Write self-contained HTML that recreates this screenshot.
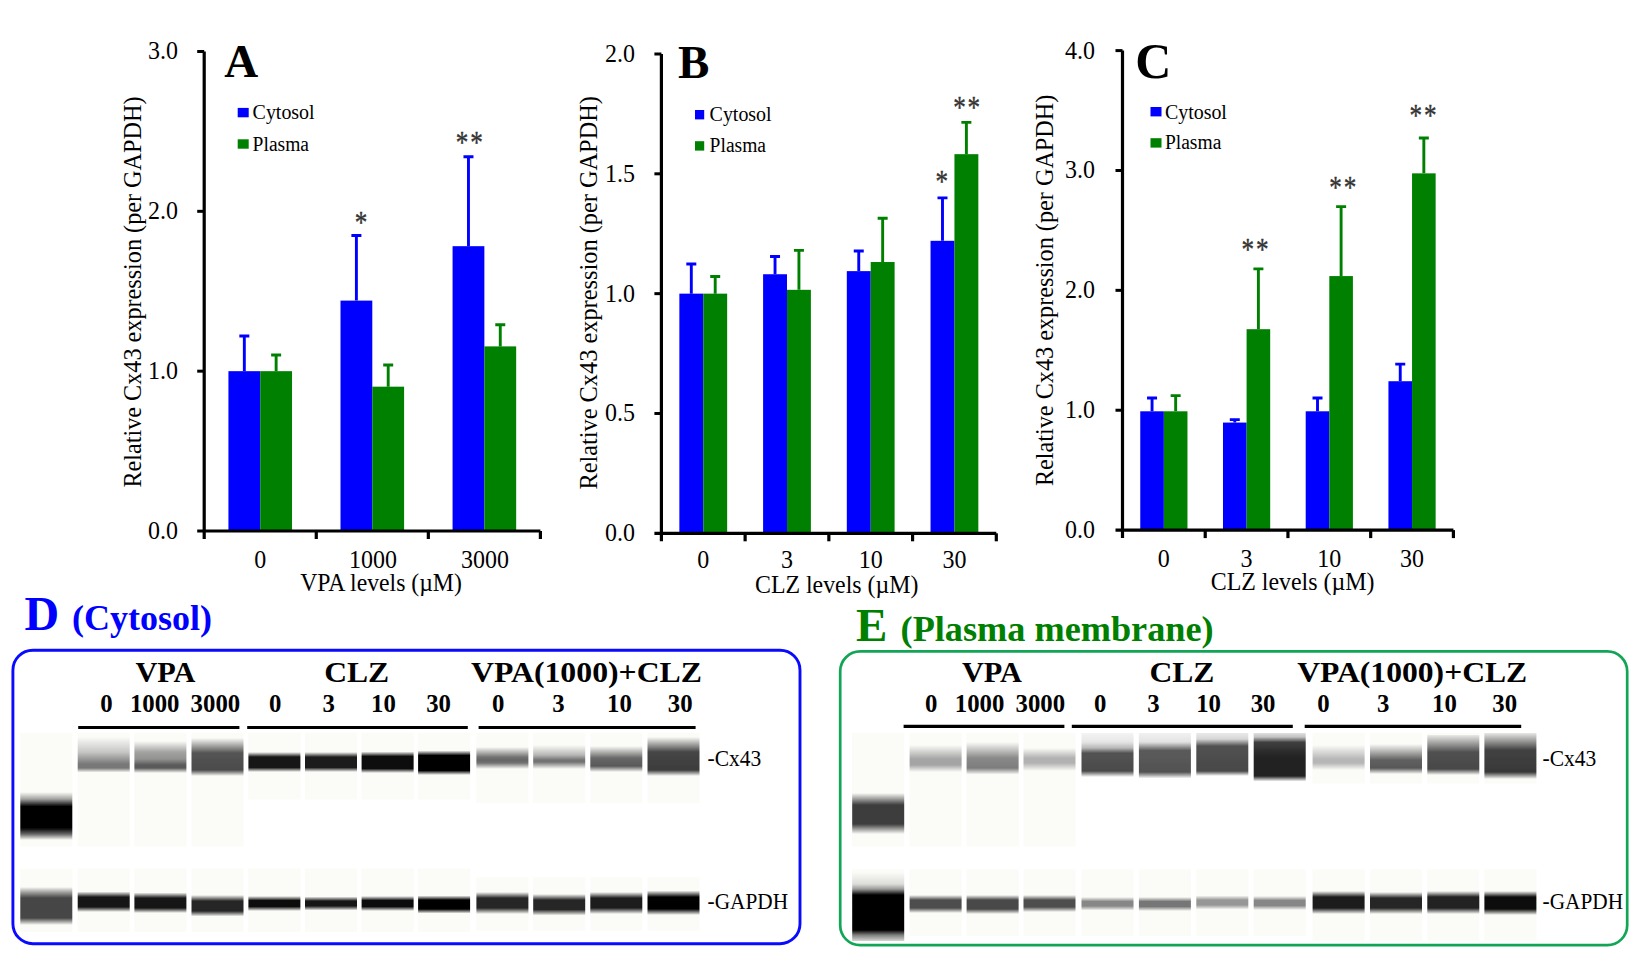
<!DOCTYPE html>
<html><head><meta charset="utf-8"><title>Figure</title>
<style>html,body{margin:0;padding:0;background:#fff}svg{display:block}</style></head>
<body>
<svg width="1635" height="970" viewBox="0 0 1635 970">
<defs><filter id="soft" x="0" y="0" width="100%" height="100%" filterUnits="userSpaceOnUse"><feGaussianBlur stdDeviation="0.7 0.5"/></filter>
<linearGradient id="g1" x1="0" y1="0" x2="0" y2="1"><stop offset="0.0000" stop-color="rgb(0,0,0)" stop-opacity="0"/><stop offset="0.1458" stop-color="rgb(0,0,0)" stop-opacity="0.35"/><stop offset="0.3021" stop-color="rgb(0,0,0)" stop-opacity="1"/><stop offset="0.7500" stop-color="rgb(0,0,0)" stop-opacity="1"/><stop offset="0.8750" stop-color="rgb(0,0,0)" stop-opacity="0.6"/><stop offset="1.0000" stop-color="rgb(0,0,0)" stop-opacity="0"/></linearGradient><linearGradient id="g2" x1="0" y1="0" x2="0" y2="1"><stop offset="0.0000" stop-color="rgb(40,40,40)" stop-opacity="0"/><stop offset="0.2895" stop-color="rgb(60,60,60)" stop-opacity="0.95"/><stop offset="0.8158" stop-color="rgb(60,60,60)" stop-opacity="0.95"/><stop offset="1.0000" stop-color="rgb(60,60,60)" stop-opacity="0"/></linearGradient><linearGradient id="g3" x1="0" y1="0" x2="0" y2="1"><stop offset="0.0000" stop-color="rgb(120,120,120)" stop-opacity="0"/><stop offset="0.4225" stop-color="rgb(120,120,120)" stop-opacity="0.4"/><stop offset="0.7606" stop-color="rgb(120,120,120)" stop-opacity="1"/><stop offset="0.8732" stop-color="rgb(120,120,120)" stop-opacity="1"/><stop offset="1.0000" stop-color="rgb(120,120,120)" stop-opacity="0"/></linearGradient><linearGradient id="g4" x1="0" y1="0" x2="0" y2="1"><stop offset="0.0000" stop-color="rgb(90,90,90)" stop-opacity="0"/><stop offset="0.3438" stop-color="rgb(90,90,90)" stop-opacity="0.55"/><stop offset="0.5625" stop-color="rgb(90,90,90)" stop-opacity="0.65"/><stop offset="0.7500" stop-color="rgb(90,90,90)" stop-opacity="1"/><stop offset="0.8438" stop-color="rgb(90,90,90)" stop-opacity="1"/><stop offset="1.0000" stop-color="rgb(90,90,90)" stop-opacity="0"/></linearGradient><linearGradient id="g5" x1="0" y1="0" x2="0" y2="1"><stop offset="0.0000" stop-color="rgb(75,75,75)" stop-opacity="0"/><stop offset="0.3947" stop-color="rgb(75,75,75)" stop-opacity="0.95"/><stop offset="0.8421" stop-color="rgb(75,75,75)" stop-opacity="1"/><stop offset="1.0000" stop-color="rgb(75,75,75)" stop-opacity="0"/></linearGradient><linearGradient id="g6" x1="0" y1="0" x2="0" y2="1"><stop offset="0.0000" stop-color="rgb(20,20,20)" stop-opacity="0"/><stop offset="0.2500" stop-color="rgb(20,20,20)" stop-opacity="1"/><stop offset="0.7750" stop-color="rgb(20,20,20)" stop-opacity="1"/><stop offset="1.0000" stop-color="rgb(20,20,20)" stop-opacity="0"/></linearGradient><linearGradient id="g7" x1="0" y1="0" x2="0" y2="1"><stop offset="0.0000" stop-color="rgb(30,30,30)" stop-opacity="0"/><stop offset="0.2500" stop-color="rgb(30,30,30)" stop-opacity="1"/><stop offset="0.7750" stop-color="rgb(30,30,30)" stop-opacity="1"/><stop offset="1.0000" stop-color="rgb(30,30,30)" stop-opacity="0"/></linearGradient><linearGradient id="g8" x1="0" y1="0" x2="0" y2="1"><stop offset="0.0000" stop-color="rgb(8,8,8)" stop-opacity="0"/><stop offset="0.2326" stop-color="rgb(8,8,8)" stop-opacity="1"/><stop offset="0.7907" stop-color="rgb(8,8,8)" stop-opacity="1"/><stop offset="1.0000" stop-color="rgb(8,8,8)" stop-opacity="0"/></linearGradient><linearGradient id="g9" x1="0" y1="0" x2="0" y2="1"><stop offset="0.0000" stop-color="rgb(0,0,0)" stop-opacity="0"/><stop offset="0.2041" stop-color="rgb(0,0,0)" stop-opacity="1"/><stop offset="0.8163" stop-color="rgb(0,0,0)" stop-opacity="1"/><stop offset="1.0000" stop-color="rgb(0,0,0)" stop-opacity="0"/></linearGradient><linearGradient id="g10" x1="0" y1="0" x2="0" y2="1"><stop offset="0.0000" stop-color="rgb(100,100,100)" stop-opacity="0"/><stop offset="0.4545" stop-color="rgb(100,100,100)" stop-opacity="0.9"/><stop offset="0.5909" stop-color="rgb(100,100,100)" stop-opacity="1"/><stop offset="0.7273" stop-color="rgb(100,100,100)" stop-opacity="0.9"/><stop offset="1.0000" stop-color="rgb(100,100,100)" stop-opacity="0"/></linearGradient><linearGradient id="g11" x1="0" y1="0" x2="0" y2="1"><stop offset="0.0000" stop-color="rgb(115,115,115)" stop-opacity="0"/><stop offset="0.4167" stop-color="rgb(115,115,115)" stop-opacity="0.5"/><stop offset="0.6250" stop-color="rgb(115,115,115)" stop-opacity="1"/><stop offset="0.7083" stop-color="rgb(115,115,115)" stop-opacity="1"/><stop offset="1.0000" stop-color="rgb(115,115,115)" stop-opacity="0"/></linearGradient><linearGradient id="g12" x1="0" y1="0" x2="0" y2="1"><stop offset="0.0000" stop-color="rgb(88,88,88)" stop-opacity="0"/><stop offset="0.4615" stop-color="rgb(88,88,88)" stop-opacity="0.9"/><stop offset="0.7692" stop-color="rgb(88,88,88)" stop-opacity="1"/><stop offset="1.0000" stop-color="rgb(88,88,88)" stop-opacity="0"/></linearGradient><linearGradient id="g13" x1="0" y1="0" x2="0" y2="1"><stop offset="0.0000" stop-color="rgb(60,60,60)" stop-opacity="0"/><stop offset="0.3846" stop-color="rgb(60,60,60)" stop-opacity="0.95"/><stop offset="0.8462" stop-color="rgb(60,60,60)" stop-opacity="1"/><stop offset="1.0000" stop-color="rgb(60,60,60)" stop-opacity="0"/></linearGradient><linearGradient id="g14" x1="0" y1="0" x2="0" y2="1"><stop offset="0.0000" stop-color="rgb(25,25,25)" stop-opacity="0"/><stop offset="0.2683" stop-color="rgb(25,25,25)" stop-opacity="1.0"/><stop offset="0.7561" stop-color="rgb(25,25,25)" stop-opacity="1.0"/><stop offset="1.0000" stop-color="rgb(25,25,25)" stop-opacity="0"/></linearGradient><linearGradient id="g15" x1="0" y1="0" x2="0" y2="1"><stop offset="0.0000" stop-color="rgb(25,25,25)" stop-opacity="0"/><stop offset="0.2683" stop-color="rgb(25,25,25)" stop-opacity="1.0"/><stop offset="0.7561" stop-color="rgb(25,25,25)" stop-opacity="1.0"/><stop offset="1.0000" stop-color="rgb(25,25,25)" stop-opacity="0"/></linearGradient><linearGradient id="g16" x1="0" y1="0" x2="0" y2="1"><stop offset="0.0000" stop-color="rgb(40,40,40)" stop-opacity="0"/><stop offset="0.2791" stop-color="rgb(40,40,40)" stop-opacity="1.0"/><stop offset="0.7442" stop-color="rgb(40,40,40)" stop-opacity="1.0"/><stop offset="1.0000" stop-color="rgb(40,40,40)" stop-opacity="0"/></linearGradient><linearGradient id="g17" x1="0" y1="0" x2="0" y2="1"><stop offset="0.0000" stop-color="rgb(15,15,15)" stop-opacity="0"/><stop offset="0.3000" stop-color="rgb(15,15,15)" stop-opacity="1.0"/><stop offset="0.7000" stop-color="rgb(15,15,15)" stop-opacity="1.0"/><stop offset="1.0000" stop-color="rgb(15,15,15)" stop-opacity="0"/></linearGradient><linearGradient id="g18" x1="0" y1="0" x2="0" y2="1"><stop offset="0.0000" stop-color="rgb(25,25,25)" stop-opacity="0"/><stop offset="0.3214" stop-color="rgb(25,25,25)" stop-opacity="1.0"/><stop offset="0.6786" stop-color="rgb(25,25,25)" stop-opacity="1.0"/><stop offset="1.0000" stop-color="rgb(25,25,25)" stop-opacity="0"/></linearGradient><linearGradient id="g19" x1="0" y1="0" x2="0" y2="1"><stop offset="0.0000" stop-color="rgb(10,10,10)" stop-opacity="0"/><stop offset="0.3000" stop-color="rgb(10,10,10)" stop-opacity="1.0"/><stop offset="0.7000" stop-color="rgb(10,10,10)" stop-opacity="1.0"/><stop offset="1.0000" stop-color="rgb(10,10,10)" stop-opacity="0"/></linearGradient><linearGradient id="g20" x1="0" y1="0" x2="0" y2="1"><stop offset="0.0000" stop-color="rgb(0,0,0)" stop-opacity="0"/><stop offset="0.2500" stop-color="rgb(0,0,0)" stop-opacity="1.0"/><stop offset="0.7500" stop-color="rgb(0,0,0)" stop-opacity="1.0"/><stop offset="1.0000" stop-color="rgb(0,0,0)" stop-opacity="0"/></linearGradient><linearGradient id="g21" x1="0" y1="0" x2="0" y2="1"><stop offset="0.0000" stop-color="rgb(40,40,40)" stop-opacity="0"/><stop offset="0.2727" stop-color="rgb(40,40,40)" stop-opacity="1.0"/><stop offset="0.7273" stop-color="rgb(40,40,40)" stop-opacity="1.0"/><stop offset="1.0000" stop-color="rgb(40,40,40)" stop-opacity="0"/></linearGradient><linearGradient id="g22" x1="0" y1="0" x2="0" y2="1"><stop offset="0.0000" stop-color="rgb(40,40,40)" stop-opacity="0"/><stop offset="0.2791" stop-color="rgb(40,40,40)" stop-opacity="1.0"/><stop offset="0.7209" stop-color="rgb(40,40,40)" stop-opacity="1.0"/><stop offset="1.0000" stop-color="rgb(40,40,40)" stop-opacity="0"/></linearGradient><linearGradient id="g23" x1="0" y1="0" x2="0" y2="1"><stop offset="0.0000" stop-color="rgb(30,30,30)" stop-opacity="0"/><stop offset="0.2727" stop-color="rgb(30,30,30)" stop-opacity="1.0"/><stop offset="0.7273" stop-color="rgb(30,30,30)" stop-opacity="1.0"/><stop offset="1.0000" stop-color="rgb(30,30,30)" stop-opacity="0"/></linearGradient><linearGradient id="g24" x1="0" y1="0" x2="0" y2="1"><stop offset="0.0000" stop-color="rgb(5,5,5)" stop-opacity="0"/><stop offset="0.2653" stop-color="rgb(5,5,5)" stop-opacity="1.0"/><stop offset="0.7551" stop-color="rgb(5,5,5)" stop-opacity="1.0"/><stop offset="1.0000" stop-color="rgb(5,5,5)" stop-opacity="0"/></linearGradient><linearGradient id="g25" x1="0" y1="0" x2="0" y2="1"><stop offset="0.0000" stop-color="rgb(60,60,60)" stop-opacity="0"/><stop offset="0.2927" stop-color="rgb(60,60,60)" stop-opacity="1"/><stop offset="0.7561" stop-color="rgb(60,60,60)" stop-opacity="1"/><stop offset="1.0000" stop-color="rgb(60,60,60)" stop-opacity="0"/></linearGradient><linearGradient id="g26" x1="0" y1="0" x2="0" y2="1"><stop offset="0.0000" stop-color="rgb(0,0,0)" stop-opacity="0"/><stop offset="0.1739" stop-color="rgb(0,0,0)" stop-opacity="0.12"/><stop offset="0.2464" stop-color="rgb(0,0,0)" stop-opacity="0.38"/><stop offset="0.3333" stop-color="rgb(0,0,0)" stop-opacity="1"/><stop offset="0.8406" stop-color="rgb(0,0,0)" stop-opacity="1"/><stop offset="0.9130" stop-color="rgb(0,0,0)" stop-opacity="0.5"/><stop offset="1.0000" stop-color="rgb(0,0,0)" stop-opacity="0.15"/></linearGradient><linearGradient id="g27" x1="0" y1="0" x2="0" y2="1"><stop offset="0.0000" stop-color="rgb(160,160,160)" stop-opacity="0"/><stop offset="0.5185" stop-color="rgb(160,160,160)" stop-opacity="0.95"/><stop offset="0.7407" stop-color="rgb(160,160,160)" stop-opacity="0.95"/><stop offset="1.0000" stop-color="rgb(160,160,160)" stop-opacity="0"/></linearGradient><linearGradient id="g28" x1="0" y1="0" x2="0" y2="1"><stop offset="0.0000" stop-color="rgb(125,125,125)" stop-opacity="0"/><stop offset="0.4923" stop-color="rgb(125,125,125)" stop-opacity="0.9"/><stop offset="0.8000" stop-color="rgb(125,125,125)" stop-opacity="1"/><stop offset="1.0000" stop-color="rgb(125,125,125)" stop-opacity="0"/></linearGradient><linearGradient id="g29" x1="0" y1="0" x2="0" y2="1"><stop offset="0.0000" stop-color="rgb(170,170,170)" stop-opacity="0"/><stop offset="0.4348" stop-color="rgb(170,170,170)" stop-opacity="0.9"/><stop offset="0.6522" stop-color="rgb(170,170,170)" stop-opacity="0.9"/><stop offset="1.0000" stop-color="rgb(170,170,170)" stop-opacity="0"/></linearGradient><linearGradient id="g30" x1="0" y1="0" x2="0" y2="1"><stop offset="0.0000" stop-color="rgb(74,74,74)" stop-opacity="0.06"/><stop offset="0.2045" stop-color="rgb(74,74,74)" stop-opacity="0.14"/><stop offset="0.3409" stop-color="rgb(74,74,74)" stop-opacity="0.4"/><stop offset="0.4545" stop-color="rgb(74,74,74)" stop-opacity="0.95"/><stop offset="0.8636" stop-color="rgb(74,74,74)" stop-opacity="1"/><stop offset="1.0000" stop-color="rgb(74,74,74)" stop-opacity="0"/></linearGradient><linearGradient id="g31" x1="0" y1="0" x2="0" y2="1"><stop offset="0.0000" stop-color="rgb(82,82,82)" stop-opacity="0.08"/><stop offset="0.1978" stop-color="rgb(82,82,82)" stop-opacity="0.16"/><stop offset="0.3846" stop-color="rgb(82,82,82)" stop-opacity="0.95"/><stop offset="0.8571" stop-color="rgb(82,82,82)" stop-opacity="1"/><stop offset="1.0000" stop-color="rgb(82,82,82)" stop-opacity="0"/></linearGradient><linearGradient id="g32" x1="0" y1="0" x2="0" y2="1"><stop offset="0.0000" stop-color="rgb(72,72,72)" stop-opacity="0.12"/><stop offset="0.1395" stop-color="rgb(72,72,72)" stop-opacity="0.22"/><stop offset="0.3023" stop-color="rgb(72,72,72)" stop-opacity="0.95"/><stop offset="0.8837" stop-color="rgb(72,72,72)" stop-opacity="1"/><stop offset="1.0000" stop-color="rgb(72,72,72)" stop-opacity="0"/></linearGradient><linearGradient id="g33" x1="0" y1="0" x2="0" y2="1"><stop offset="0.0000" stop-color="rgb(40,40,40)" stop-opacity="0.15"/><stop offset="0.0825" stop-color="rgb(40,40,40)" stop-opacity="0.28"/><stop offset="0.1959" stop-color="rgb(40,40,40)" stop-opacity="0.9"/><stop offset="0.5155" stop-color="rgb(34,34,34)" stop-opacity="1"/><stop offset="0.8866" stop-color="rgb(36,36,36)" stop-opacity="1"/><stop offset="1.0000" stop-color="rgb(40,40,40)" stop-opacity="0"/></linearGradient><linearGradient id="g34" x1="0" y1="0" x2="0" y2="1"><stop offset="0.0000" stop-color="rgb(175,175,175)" stop-opacity="0"/><stop offset="0.5600" stop-color="rgb(175,175,175)" stop-opacity="0.9"/><stop offset="0.7200" stop-color="rgb(175,175,175)" stop-opacity="0.9"/><stop offset="1.0000" stop-color="rgb(175,175,175)" stop-opacity="0"/></linearGradient><linearGradient id="g35" x1="0" y1="0" x2="0" y2="1"><stop offset="0.0000" stop-color="rgb(88,88,88)" stop-opacity="0"/><stop offset="0.5333" stop-color="rgb(88,88,88)" stop-opacity="0.95"/><stop offset="0.8000" stop-color="rgb(88,88,88)" stop-opacity="1"/><stop offset="1.0000" stop-color="rgb(88,88,88)" stop-opacity="0"/></linearGradient><linearGradient id="g36" x1="0" y1="0" x2="0" y2="1"><stop offset="0.0000" stop-color="rgb(72,72,72)" stop-opacity="0.1"/><stop offset="0.4250" stop-color="rgb(72,72,72)" stop-opacity="0.95"/><stop offset="0.8500" stop-color="rgb(72,72,72)" stop-opacity="1"/><stop offset="1.0000" stop-color="rgb(72,72,72)" stop-opacity="0"/></linearGradient><linearGradient id="g37" x1="0" y1="0" x2="0" y2="1"><stop offset="0.0000" stop-color="rgb(56,56,56)" stop-opacity="0.1"/><stop offset="0.3696" stop-color="rgb(56,56,56)" stop-opacity="0.95"/><stop offset="0.8478" stop-color="rgb(56,56,56)" stop-opacity="1"/><stop offset="1.0000" stop-color="rgb(56,56,56)" stop-opacity="0"/></linearGradient><linearGradient id="g38" x1="0" y1="0" x2="0" y2="1"><stop offset="0.0000" stop-color="rgb(78,78,78)" stop-opacity="0"/><stop offset="0.2778" stop-color="rgb(78,78,78)" stop-opacity="1.0"/><stop offset="0.7222" stop-color="rgb(78,78,78)" stop-opacity="1.0"/><stop offset="1.0000" stop-color="rgb(78,78,78)" stop-opacity="0"/></linearGradient><linearGradient id="g39" x1="0" y1="0" x2="0" y2="1"><stop offset="0.0000" stop-color="rgb(72,72,72)" stop-opacity="0"/><stop offset="0.2632" stop-color="rgb(72,72,72)" stop-opacity="1.0"/><stop offset="0.7368" stop-color="rgb(72,72,72)" stop-opacity="1.0"/><stop offset="1.0000" stop-color="rgb(72,72,72)" stop-opacity="0"/></linearGradient><linearGradient id="g40" x1="0" y1="0" x2="0" y2="1"><stop offset="0.0000" stop-color="rgb(78,78,78)" stop-opacity="0"/><stop offset="0.2941" stop-color="rgb(78,78,78)" stop-opacity="1.0"/><stop offset="0.7059" stop-color="rgb(78,78,78)" stop-opacity="1.0"/><stop offset="1.0000" stop-color="rgb(78,78,78)" stop-opacity="0"/></linearGradient><linearGradient id="g41" x1="0" y1="0" x2="0" y2="1"><stop offset="0.0000" stop-color="rgb(135,135,135)" stop-opacity="0"/><stop offset="0.3333" stop-color="rgb(135,135,135)" stop-opacity="1.0"/><stop offset="0.6667" stop-color="rgb(135,135,135)" stop-opacity="1.0"/><stop offset="1.0000" stop-color="rgb(135,135,135)" stop-opacity="0"/></linearGradient><linearGradient id="g42" x1="0" y1="0" x2="0" y2="1"><stop offset="0.0000" stop-color="rgb(118,118,118)" stop-opacity="0"/><stop offset="0.3214" stop-color="rgb(118,118,118)" stop-opacity="1.0"/><stop offset="0.6786" stop-color="rgb(118,118,118)" stop-opacity="1.0"/><stop offset="1.0000" stop-color="rgb(118,118,118)" stop-opacity="0"/></linearGradient><linearGradient id="g43" x1="0" y1="0" x2="0" y2="1"><stop offset="0.0000" stop-color="rgb(150,150,150)" stop-opacity="0"/><stop offset="0.3214" stop-color="rgb(150,150,150)" stop-opacity="1.0"/><stop offset="0.6786" stop-color="rgb(150,150,150)" stop-opacity="1.0"/><stop offset="1.0000" stop-color="rgb(150,150,150)" stop-opacity="0"/></linearGradient><linearGradient id="g44" x1="0" y1="0" x2="0" y2="1"><stop offset="0.0000" stop-color="rgb(135,135,135)" stop-opacity="0"/><stop offset="0.3214" stop-color="rgb(135,135,135)" stop-opacity="1.0"/><stop offset="0.6786" stop-color="rgb(135,135,135)" stop-opacity="1.0"/><stop offset="1.0000" stop-color="rgb(135,135,135)" stop-opacity="0"/></linearGradient><linearGradient id="g45" x1="0" y1="0" x2="0" y2="1"><stop offset="0.0000" stop-color="rgb(28,28,28)" stop-opacity="0"/><stop offset="0.2609" stop-color="rgb(28,28,28)" stop-opacity="1.0"/><stop offset="0.7391" stop-color="rgb(28,28,28)" stop-opacity="1.0"/><stop offset="1.0000" stop-color="rgb(28,28,28)" stop-opacity="0"/></linearGradient><linearGradient id="g46" x1="0" y1="0" x2="0" y2="1"><stop offset="0.0000" stop-color="rgb(40,40,40)" stop-opacity="0"/><stop offset="0.2727" stop-color="rgb(40,40,40)" stop-opacity="1.0"/><stop offset="0.7273" stop-color="rgb(40,40,40)" stop-opacity="1.0"/><stop offset="1.0000" stop-color="rgb(40,40,40)" stop-opacity="0"/></linearGradient><linearGradient id="g47" x1="0" y1="0" x2="0" y2="1"><stop offset="0.0000" stop-color="rgb(32,32,32)" stop-opacity="0"/><stop offset="0.2609" stop-color="rgb(32,32,32)" stop-opacity="1.0"/><stop offset="0.7391" stop-color="rgb(32,32,32)" stop-opacity="1.0"/><stop offset="1.0000" stop-color="rgb(32,32,32)" stop-opacity="0"/></linearGradient><linearGradient id="g48" x1="0" y1="0" x2="0" y2="1"><stop offset="0.0000" stop-color="rgb(12,12,12)" stop-opacity="0"/><stop offset="0.2500" stop-color="rgb(12,12,12)" stop-opacity="1.0"/><stop offset="0.7500" stop-color="rgb(12,12,12)" stop-opacity="1.0"/><stop offset="1.0000" stop-color="rgb(12,12,12)" stop-opacity="0"/></linearGradient></defs>
<rect width="1635" height="970" fill="#fff"/>
<g font-family="Liberation Serif, serif">
<rect x="228.43" y="371.17" width="31.80" height="159.83" fill="#0000ff"/>
<path d="M244.33 371.17V335.68M239.33 335.98H249.33" stroke="#0000ff" stroke-width="2.9" fill="none"/>
<rect x="260.23" y="371.17" width="31.80" height="159.83" fill="#008000"/>
<path d="M276.13 371.17V354.70M271.13 355.00H281.13" stroke="#008000" stroke-width="2.9" fill="none"/>
<rect x="340.50" y="300.60" width="31.80" height="230.40" fill="#0000ff"/>
<path d="M356.40 300.60V235.15M351.40 235.45H361.40" stroke="#0000ff" stroke-width="2.9" fill="none"/>
<rect x="372.30" y="386.67" width="31.80" height="144.33" fill="#008000"/>
<path d="M388.20 386.67V364.77M383.20 365.07H393.20" stroke="#008000" stroke-width="2.9" fill="none"/>
<rect x="452.57" y="246.18" width="31.80" height="284.82" fill="#0000ff"/>
<path d="M468.47 246.18V156.51M463.47 156.81H473.47" stroke="#0000ff" stroke-width="2.9" fill="none"/>
<rect x="484.37" y="346.39" width="31.80" height="184.61" fill="#008000"/>
<path d="M500.27 346.39V324.50M495.27 324.80H505.27" stroke="#008000" stroke-width="2.9" fill="none"/>
<path d="M204.2 51.5V539.0M197.2 531.0H540.4" stroke="#000" stroke-width="3.2" fill="none"/>
<text transform="translate(178 538.90) scale(1 1.01)" font-size="24" text-anchor="end" font-weight="normal" fill="#000" >0.0</text>
<path d="M197.2 371.17H204.2" stroke="#000" stroke-width="3" fill="none"/>
<text transform="translate(178 379.07) scale(1 1.01)" font-size="24" text-anchor="end" font-weight="normal" fill="#000" >1.0</text>
<path d="M197.2 211.33H204.2" stroke="#000" stroke-width="3" fill="none"/>
<text transform="translate(178 219.23) scale(1 1.01)" font-size="24" text-anchor="end" font-weight="normal" fill="#000" >2.0</text>
<path d="M197.2 51.50H204.2" stroke="#000" stroke-width="3" fill="none"/>
<text transform="translate(178 59.40) scale(1 1.01)" font-size="24" text-anchor="end" font-weight="normal" fill="#000" >3.0</text>
<path d="M316.27 531.0V539.0" stroke="#000" stroke-width="3.2" fill="none"/>
<path d="M428.33 531.0V539.0" stroke="#000" stroke-width="3.2" fill="none"/>
<path d="M540.40 531.0V539.0" stroke="#000" stroke-width="3.2" fill="none"/>
<text transform="translate(260.23 567.5) scale(1 1.01)" font-size="24" text-anchor="middle" font-weight="normal" fill="#000" >0</text>
<text transform="translate(372.90 567.5) scale(1 1.01)" font-size="24" text-anchor="middle" font-weight="normal" fill="#000" >1000</text>
<text transform="translate(484.97 567.5) scale(1 1.01)" font-size="24" text-anchor="middle" font-weight="normal" fill="#000" >3000</text>
<text transform="translate(300.2 590.6) scale(1 1.04)" font-size="24" text-anchor="start" font-weight="normal" fill="#000" textLength="161.6" lengthAdjust="spacingAndGlyphs">VPA levels (µM)</text>
<text transform="translate(140.7 292.05) rotate(-90) scale(1 1.05)" font-size="24" text-anchor="middle" textLength="391" lengthAdjust="spacingAndGlyphs">Relative Cx43 expression (per GAPDH)</text>
<text x="224.3" y="77.4" font-size="47" text-anchor="start" font-weight="bold" fill="#000" >A</text>
<rect x="237.7" y="107.9" width="11" height="9.4" fill="#0000ff"/>
<rect x="237.7" y="139.3" width="11" height="9.4" fill="#008000"/>
<text transform="translate(252.6 119.2) scale(1 1.04)" font-size="20" text-anchor="start" font-weight="normal" fill="#000" textLength="62" lengthAdjust="spacingAndGlyphs">Cytosol</text>
<text transform="translate(252.6 150.6) scale(1 1.04)" font-size="20" text-anchor="start" font-weight="normal" fill="#000" textLength="56.4" lengthAdjust="spacingAndGlyphs">Plasma</text>
<text transform="translate(362 232.70) scale(0.9 1.12)" font-size="28" text-anchor="middle" fill="#333333" stroke="#333333" stroke-width="0.35" letter-spacing="2">*</text>
<text transform="translate(469.3 152.50) scale(0.9 1.12)" font-size="28" text-anchor="middle" fill="#333333" stroke="#333333" stroke-width="0.35" letter-spacing="2" dx="1">**</text>
<rect x="679.36" y="293.65" width="23.90" height="239.65" fill="#0000ff"/>
<path d="M691.31 293.65V263.69M686.31 263.99H696.31" stroke="#0000ff" stroke-width="2.9" fill="none"/>
<rect x="703.26" y="293.65" width="23.90" height="239.65" fill="#008000"/>
<path d="M715.21 293.65V276.16M710.21 276.46H720.21" stroke="#008000" stroke-width="2.9" fill="none"/>
<rect x="763.09" y="274.24" width="23.90" height="259.06" fill="#0000ff"/>
<path d="M775.04 274.24V256.26M770.04 256.56H780.04" stroke="#0000ff" stroke-width="2.9" fill="none"/>
<rect x="786.99" y="289.82" width="23.90" height="243.48" fill="#008000"/>
<path d="M798.94 289.82V250.03M793.94 250.33H803.94" stroke="#008000" stroke-width="2.9" fill="none"/>
<rect x="846.81" y="271.12" width="23.90" height="262.18" fill="#0000ff"/>
<path d="M858.76 271.12V250.75M853.76 251.05H863.76" stroke="#0000ff" stroke-width="2.9" fill="none"/>
<rect x="870.71" y="262.02" width="23.90" height="271.28" fill="#008000"/>
<path d="M882.66 262.02V217.92M877.66 218.22H887.66" stroke="#008000" stroke-width="2.9" fill="none"/>
<rect x="930.54" y="240.81" width="23.90" height="292.49" fill="#0000ff"/>
<path d="M942.49 240.81V197.55M937.49 197.85H947.49" stroke="#0000ff" stroke-width="2.9" fill="none"/>
<rect x="954.44" y="154.17" width="23.90" height="379.13" fill="#008000"/>
<path d="M966.39 154.17V122.06M961.39 122.36H971.39" stroke="#008000" stroke-width="2.9" fill="none"/>
<path d="M661.4 54.0V541.3M654.4 533.3H996.3" stroke="#000" stroke-width="3.2" fill="none"/>
<text transform="translate(635 541.20) scale(1 1.01)" font-size="24" text-anchor="end" font-weight="normal" fill="#000" >0.0</text>
<path d="M654.4 413.47H661.4" stroke="#000" stroke-width="3" fill="none"/>
<text transform="translate(635 421.37) scale(1 1.01)" font-size="24" text-anchor="end" font-weight="normal" fill="#000" >0.5</text>
<path d="M654.4 293.65H661.4" stroke="#000" stroke-width="3" fill="none"/>
<text transform="translate(635 301.55) scale(1 1.01)" font-size="24" text-anchor="end" font-weight="normal" fill="#000" >1.0</text>
<path d="M654.4 173.82H661.4" stroke="#000" stroke-width="3" fill="none"/>
<text transform="translate(635 181.72) scale(1 1.01)" font-size="24" text-anchor="end" font-weight="normal" fill="#000" >1.5</text>
<path d="M654.4 54.00H661.4" stroke="#000" stroke-width="3" fill="none"/>
<text transform="translate(635 61.90) scale(1 1.01)" font-size="24" text-anchor="end" font-weight="normal" fill="#000" >2.0</text>
<path d="M745.12 533.3V541.3" stroke="#000" stroke-width="3.2" fill="none"/>
<path d="M828.85 533.3V541.3" stroke="#000" stroke-width="3.2" fill="none"/>
<path d="M912.57 533.3V541.3" stroke="#000" stroke-width="3.2" fill="none"/>
<path d="M996.30 533.3V541.3" stroke="#000" stroke-width="3.2" fill="none"/>
<text transform="translate(703.26 568.2) scale(1 1.01)" font-size="24" text-anchor="middle" font-weight="normal" fill="#000" >0</text>
<text transform="translate(786.99 568.2) scale(1 1.01)" font-size="24" text-anchor="middle" font-weight="normal" fill="#000" >3</text>
<text transform="translate(870.71 568.2) scale(1 1.01)" font-size="24" text-anchor="middle" font-weight="normal" fill="#000" >10</text>
<text transform="translate(954.44 568.2) scale(1 1.01)" font-size="24" text-anchor="middle" font-weight="normal" fill="#000" >30</text>
<text transform="translate(755.0 592.5) scale(1 1.04)" font-size="24" text-anchor="start" font-weight="normal" fill="#000" textLength="163.4" lengthAdjust="spacingAndGlyphs">CLZ levels (µM)</text>
<text transform="translate(596.8 292.85) rotate(-90) scale(1 1.05)" font-size="24" text-anchor="middle" textLength="393.5" lengthAdjust="spacingAndGlyphs">Relative Cx43 expression (per GAPDH)</text>
<text x="678.0" y="77.7" font-size="47" text-anchor="start" font-weight="bold" fill="#000" >B</text>
<rect x="695" y="110" width="9.2" height="9.4" fill="#0000ff"/>
<rect x="695" y="141.2" width="9.2" height="9.4" fill="#008000"/>
<text transform="translate(709.6 121.0) scale(1 1.04)" font-size="20" text-anchor="start" font-weight="normal" fill="#000" textLength="62" lengthAdjust="spacingAndGlyphs">Cytosol</text>
<text transform="translate(709.6 152.2) scale(1 1.04)" font-size="20" text-anchor="start" font-weight="normal" fill="#000" textLength="56.4" lengthAdjust="spacingAndGlyphs">Plasma</text>
<text transform="translate(942.6 191.90) scale(0.9 1.12)" font-size="28" text-anchor="middle" fill="#333333" stroke="#333333" stroke-width="0.35" letter-spacing="2">*</text>
<text transform="translate(966.7 118.00) scale(0.9 1.12)" font-size="28" text-anchor="middle" fill="#333333" stroke="#333333" stroke-width="0.35" letter-spacing="2" dx="1">**</text>
<rect x="1140.26" y="411.30" width="23.60" height="118.80" fill="#0000ff"/>
<path d="M1152.06 411.30V397.76M1147.06 398.06H1157.06" stroke="#0000ff" stroke-width="2.9" fill="none"/>
<rect x="1163.86" y="411.30" width="23.60" height="118.80" fill="#008000"/>
<path d="M1175.66 411.30V395.36M1170.66 395.66H1180.66" stroke="#008000" stroke-width="2.9" fill="none"/>
<rect x="1222.99" y="422.57" width="23.60" height="107.53" fill="#0000ff"/>
<path d="M1234.79 422.57V419.34M1229.79 419.64H1239.79" stroke="#0000ff" stroke-width="2.9" fill="none"/>
<rect x="1246.59" y="329.19" width="23.60" height="200.91" fill="#008000"/>
<path d="M1258.39 329.19V268.53M1253.39 268.83H1263.39" stroke="#008000" stroke-width="2.9" fill="none"/>
<rect x="1305.71" y="411.30" width="23.60" height="118.80" fill="#0000ff"/>
<path d="M1317.51 411.30V397.76M1312.51 398.06H1322.51" stroke="#0000ff" stroke-width="2.9" fill="none"/>
<rect x="1329.31" y="276.08" width="23.60" height="254.02" fill="#008000"/>
<path d="M1341.11 276.08V206.32M1336.11 206.62H1346.11" stroke="#008000" stroke-width="2.9" fill="none"/>
<rect x="1388.44" y="381.22" width="23.60" height="148.88" fill="#0000ff"/>
<path d="M1400.24 381.22V363.83M1395.24 364.13H1405.24" stroke="#0000ff" stroke-width="2.9" fill="none"/>
<rect x="1412.04" y="173.35" width="23.60" height="356.75" fill="#008000"/>
<path d="M1423.84 173.35V137.63M1418.84 137.93H1428.84" stroke="#008000" stroke-width="2.9" fill="none"/>
<path d="M1122.5 50.6V538.1M1115.5 530.1H1453.4" stroke="#000" stroke-width="3.2" fill="none"/>
<text transform="translate(1095 538.00) scale(1 1.01)" font-size="24" text-anchor="end" font-weight="normal" fill="#000" >0.0</text>
<path d="M1115.5 410.23H1122.5" stroke="#000" stroke-width="3" fill="none"/>
<text transform="translate(1095 418.12) scale(1 1.01)" font-size="24" text-anchor="end" font-weight="normal" fill="#000" >1.0</text>
<path d="M1115.5 290.35H1122.5" stroke="#000" stroke-width="3" fill="none"/>
<text transform="translate(1095 298.25) scale(1 1.01)" font-size="24" text-anchor="end" font-weight="normal" fill="#000" >2.0</text>
<path d="M1115.5 170.48H1122.5" stroke="#000" stroke-width="3" fill="none"/>
<text transform="translate(1095 178.38) scale(1 1.01)" font-size="24" text-anchor="end" font-weight="normal" fill="#000" >3.0</text>
<path d="M1115.5 50.60H1122.5" stroke="#000" stroke-width="3" fill="none"/>
<text transform="translate(1095 58.50) scale(1 1.01)" font-size="24" text-anchor="end" font-weight="normal" fill="#000" >4.0</text>
<path d="M1205.22 530.1V538.1" stroke="#000" stroke-width="3.2" fill="none"/>
<path d="M1287.95 530.1V538.1" stroke="#000" stroke-width="3.2" fill="none"/>
<path d="M1370.68 530.1V538.1" stroke="#000" stroke-width="3.2" fill="none"/>
<path d="M1453.40 530.1V538.1" stroke="#000" stroke-width="3.2" fill="none"/>
<text transform="translate(1163.86 566.8) scale(1 1.01)" font-size="24" text-anchor="middle" font-weight="normal" fill="#000" >0</text>
<text transform="translate(1246.59 566.8) scale(1 1.01)" font-size="24" text-anchor="middle" font-weight="normal" fill="#000" >3</text>
<text transform="translate(1329.31 566.8) scale(1 1.01)" font-size="24" text-anchor="middle" font-weight="normal" fill="#000" >10</text>
<text transform="translate(1412.04 566.8) scale(1 1.01)" font-size="24" text-anchor="middle" font-weight="normal" fill="#000" >30</text>
<text transform="translate(1210.7 590.0) scale(1 1.04)" font-size="24" text-anchor="start" font-weight="normal" fill="#000" textLength="163.7" lengthAdjust="spacingAndGlyphs">CLZ levels (µM)</text>
<text transform="translate(1053.4 290.35) rotate(-90) scale(1 1.05)" font-size="24" text-anchor="middle" textLength="391.5" lengthAdjust="spacingAndGlyphs">Relative Cx43 expression (per GAPDH)</text>
<text x="1135.3" y="77.9" font-size="50" text-anchor="start" font-weight="bold" fill="#000" >C</text>
<rect x="1150.5" y="107" width="11" height="9.4" fill="#0000ff"/>
<rect x="1150.5" y="138.2" width="11" height="9.4" fill="#008000"/>
<text transform="translate(1164.9 118.6) scale(1 1.04)" font-size="20" text-anchor="start" font-weight="normal" fill="#000" textLength="62" lengthAdjust="spacingAndGlyphs">Cytosol</text>
<text transform="translate(1164.9 149.2) scale(1 1.04)" font-size="20" text-anchor="start" font-weight="normal" fill="#000" textLength="56.4" lengthAdjust="spacingAndGlyphs">Plasma</text>
<text transform="translate(1255.1 259.90) scale(0.9 1.12)" font-size="28" text-anchor="middle" fill="#333333" stroke="#333333" stroke-width="0.35" letter-spacing="2" dx="1">**</text>
<text transform="translate(1342.8 197.50) scale(0.9 1.12)" font-size="28" text-anchor="middle" fill="#333333" stroke="#333333" stroke-width="0.35" letter-spacing="2" dx="1">**</text>
<text transform="translate(1423 125.70) scale(0.9 1.12)" font-size="28" text-anchor="middle" fill="#333333" stroke="#333333" stroke-width="0.35" letter-spacing="2" dx="1">**</text>
<g filter="url(#soft)">
<rect x="20.30" y="733.00" width="52.00" height="113.50" fill="#fbfbf8"/>
<rect x="77.70" y="733.00" width="52.00" height="113.50" fill="#fbfbf8"/>
<rect x="134.40" y="733.00" width="52.00" height="113.50" fill="#fbfbf8"/>
<rect x="191.50" y="733.00" width="52.00" height="113.50" fill="#fbfbf8"/>
<rect x="248.40" y="733.00" width="52.00" height="66.50" fill="#fbfbf8"/>
<rect x="305.00" y="733.00" width="52.00" height="66.50" fill="#fbfbf8"/>
<rect x="361.60" y="733.00" width="52.00" height="66.50" fill="#fbfbf8"/>
<rect x="418.10" y="733.00" width="52.00" height="66.50" fill="#fbfbf8"/>
<rect x="476.40" y="733.00" width="52.00" height="70.00" fill="#fbfbf8"/>
<rect x="533.20" y="733.00" width="52.00" height="70.00" fill="#fbfbf8"/>
<rect x="590.30" y="733.00" width="52.00" height="70.00" fill="#fbfbf8"/>
<rect x="647.50" y="733.00" width="52.00" height="70.00" fill="#fbfbf8"/>
<rect x="20.30" y="869.00" width="52.00" height="63.00" fill="#fbfbf8"/>
<rect x="77.70" y="868.50" width="52.00" height="63.50" fill="#fbfbf8"/>
<rect x="134.40" y="868.50" width="52.00" height="63.50" fill="#fbfbf8"/>
<rect x="191.50" y="868.50" width="52.00" height="63.50" fill="#fbfbf8"/>
<rect x="248.40" y="868.50" width="52.00" height="63.50" fill="#fbfbf8"/>
<rect x="305.00" y="868.50" width="52.00" height="63.50" fill="#fbfbf8"/>
<rect x="361.60" y="868.50" width="52.00" height="63.50" fill="#fbfbf8"/>
<rect x="418.10" y="868.50" width="52.00" height="63.50" fill="#fbfbf8"/>
<rect x="476.40" y="877.50" width="52.00" height="53.00" fill="#fbfbf8"/>
<rect x="533.20" y="877.50" width="52.00" height="53.00" fill="#fbfbf8"/>
<rect x="590.30" y="877.50" width="52.00" height="53.00" fill="#fbfbf8"/>
<rect x="647.50" y="877.50" width="52.00" height="53.00" fill="#fbfbf8"/>
<rect x="20.30" y="792.00" width="52.00" height="48.00" fill="url(#g1)"/>
<rect x="20.30" y="887.00" width="52.00" height="38.00" fill="url(#g2)"/>
<rect x="77.70" y="737.00" width="52.00" height="35.50" fill="url(#g3)"/>
<rect x="134.40" y="741.00" width="52.00" height="32.00" fill="url(#g4)"/>
<rect x="191.50" y="738.00" width="52.00" height="38.00" fill="url(#g5)"/>
<rect x="248.40" y="752.00" width="52.00" height="20.00" fill="url(#g6)"/>
<rect x="305.00" y="752.00" width="52.00" height="20.00" fill="url(#g7)"/>
<rect x="361.60" y="751.50" width="52.00" height="21.50" fill="url(#g8)"/>
<rect x="418.10" y="750.50" width="52.00" height="24.50" fill="url(#g9)"/>
<rect x="476.40" y="747.00" width="52.00" height="22.00" fill="url(#g10)"/>
<rect x="533.20" y="745.00" width="52.00" height="24.00" fill="url(#g11)"/>
<rect x="590.30" y="746.00" width="52.00" height="26.00" fill="url(#g12)"/>
<rect x="647.50" y="737.00" width="52.00" height="39.00" fill="url(#g13)"/>
<rect x="77.70" y="891.50" width="52.00" height="20.50" fill="url(#g14)"/>
<rect x="134.40" y="892.50" width="52.00" height="20.50" fill="url(#g15)"/>
<rect x="191.50" y="895.00" width="52.00" height="21.50" fill="url(#g16)"/>
<rect x="248.40" y="896.00" width="52.00" height="15.00" fill="url(#g17)"/>
<rect x="305.00" y="896.50" width="52.00" height="14.00" fill="url(#g18)"/>
<rect x="361.60" y="896.00" width="52.00" height="15.00" fill="url(#g19)"/>
<rect x="418.10" y="895.50" width="52.00" height="18.00" fill="url(#g20)"/>
<rect x="476.40" y="892.00" width="52.00" height="22.00" fill="url(#g21)"/>
<rect x="533.20" y="894.00" width="52.00" height="21.50" fill="url(#g22)"/>
<rect x="590.30" y="892.00" width="52.00" height="22.00" fill="url(#g23)"/>
<rect x="647.50" y="890.50" width="52.00" height="24.50" fill="url(#g24)"/>
<rect x="852.20" y="733.00" width="52.00" height="113.50" fill="#fbfbf8"/>
<rect x="909.60" y="733.00" width="52.00" height="113.50" fill="#fbfbf8"/>
<rect x="966.60" y="733.00" width="52.00" height="113.50" fill="#fbfbf8"/>
<rect x="1023.50" y="733.00" width="52.00" height="113.50" fill="#fbfbf8"/>
<rect x="1312.60" y="733.00" width="52.00" height="50.50" fill="#fbfbf8"/>
<rect x="1370.00" y="733.00" width="52.00" height="50.50" fill="#fbfbf8"/>
<rect x="1427.30" y="733.00" width="52.00" height="50.50" fill="#fbfbf8"/>
<rect x="1484.40" y="733.00" width="52.00" height="50.50" fill="#fbfbf8"/>
<rect x="852.20" y="869.50" width="52.00" height="71.50" fill="#fbfbf8"/>
<rect x="909.60" y="869.50" width="52.00" height="66.50" fill="#fbfbf8"/>
<rect x="966.60" y="869.50" width="52.00" height="66.50" fill="#fbfbf8"/>
<rect x="1023.50" y="869.50" width="52.00" height="66.50" fill="#fbfbf8"/>
<rect x="1081.50" y="869.50" width="52.00" height="66.50" fill="#fbfbf8"/>
<rect x="1138.90" y="869.50" width="52.00" height="66.50" fill="#fbfbf8"/>
<rect x="1196.30" y="869.50" width="52.00" height="66.50" fill="#fbfbf8"/>
<rect x="1253.70" y="869.50" width="52.00" height="66.50" fill="#fbfbf8"/>
<rect x="1312.60" y="869.50" width="52.00" height="71.00" fill="#fbfbf8"/>
<rect x="1370.00" y="869.50" width="52.00" height="71.00" fill="#fbfbf8"/>
<rect x="1427.30" y="869.50" width="52.00" height="71.00" fill="#fbfbf8"/>
<rect x="1484.40" y="869.50" width="52.00" height="71.00" fill="#fbfbf8"/>
<rect x="852.20" y="793.00" width="52.00" height="41.00" fill="url(#g25)"/>
<rect x="852.20" y="872.00" width="52.00" height="69.00" fill="url(#g26)"/>
<rect x="909.60" y="745.00" width="52.00" height="27.00" fill="url(#g27)"/>
<rect x="966.60" y="742.00" width="52.00" height="32.50" fill="url(#g28)"/>
<rect x="1023.50" y="748.00" width="52.00" height="23.00" fill="url(#g29)"/>
<rect x="1081.50" y="733.00" width="52.00" height="44.00" fill="url(#g30)"/>
<rect x="1138.90" y="733.00" width="52.00" height="45.50" fill="url(#g31)"/>
<rect x="1196.30" y="733.00" width="52.00" height="43.00" fill="url(#g32)"/>
<rect x="1253.70" y="733.00" width="52.00" height="48.50" fill="url(#g33)"/>
<rect x="1312.60" y="745.00" width="52.00" height="25.00" fill="url(#g34)"/>
<rect x="1370.00" y="744.00" width="52.00" height="30.00" fill="url(#g35)"/>
<rect x="1427.30" y="735.00" width="52.00" height="40.00" fill="url(#g36)"/>
<rect x="1484.40" y="733.00" width="52.00" height="46.00" fill="url(#g37)"/>
<rect x="909.60" y="895.00" width="52.00" height="18.00" fill="url(#g38)"/>
<rect x="966.60" y="895.00" width="52.00" height="19.00" fill="url(#g39)"/>
<rect x="1023.50" y="895.00" width="52.00" height="17.00" fill="url(#g40)"/>
<rect x="1081.50" y="897.00" width="52.00" height="13.50" fill="url(#g41)"/>
<rect x="1138.90" y="897.00" width="52.00" height="14.00" fill="url(#g42)"/>
<rect x="1196.30" y="895.50" width="52.00" height="14.00" fill="url(#g43)"/>
<rect x="1253.70" y="896.00" width="52.00" height="14.00" fill="url(#g44)"/>
<rect x="1312.60" y="891.00" width="52.00" height="23.00" fill="url(#g45)"/>
<rect x="1370.00" y="892.00" width="52.00" height="22.00" fill="url(#g46)"/>
<rect x="1427.30" y="891.00" width="52.00" height="23.00" fill="url(#g47)"/>
<rect x="1484.40" y="891.00" width="52.00" height="24.00" fill="url(#g48)"/>
</g>
<rect x="12.9" y="650.2" width="787.1" height="293.5" rx="20" ry="20" fill="none" stroke="#0a0aff" stroke-width="2.9"/>
<rect x="840.2" y="651.4" width="787.0" height="293.80000000000007" rx="20" ry="20" fill="none" stroke="#12a556" stroke-width="2.7"/>
<text x="24.5" y="630.4" font-size="48" text-anchor="start" font-weight="bold" fill="#0000ff" >D</text>
<text x="72.0" y="630.4" font-size="36" text-anchor="start" font-weight="bold" fill="#0000ff" textLength="140" lengthAdjust="spacingAndGlyphs">(Cytosol)</text>
<text x="856" y="641.0" font-size="47" text-anchor="start" font-weight="bold" fill="#008000" >E</text>
<text x="900.6" y="641.0" font-size="36" text-anchor="start" font-weight="bold" fill="#008000" textLength="313" lengthAdjust="spacingAndGlyphs">(Plasma membrane)</text>
<text x="135.4" y="681.7" font-size="30" text-anchor="start" font-weight="bold" fill="#000" textLength="60" lengthAdjust="spacingAndGlyphs">VPA</text>
<text x="324.2" y="681.7" font-size="30" text-anchor="start" font-weight="bold" fill="#000" textLength="65" lengthAdjust="spacingAndGlyphs">CLZ</text>
<text x="471.0" y="681.7" font-size="30" text-anchor="start" font-weight="bold" fill="#000" textLength="231" lengthAdjust="spacingAndGlyphs">VPA(1000)+CLZ</text>
<text x="106.4" y="712.3" font-size="24.8" text-anchor="middle" font-weight="bold" fill="#000" >0</text>
<text x="154.7" y="712.3" font-size="24.8" text-anchor="middle" font-weight="bold" fill="#000" >1000</text>
<text x="215.4" y="712.3" font-size="24.8" text-anchor="middle" font-weight="bold" fill="#000" >3000</text>
<text x="275.1" y="712.3" font-size="24.8" text-anchor="middle" font-weight="bold" fill="#000" >0</text>
<text x="328.8" y="712.3" font-size="24.8" text-anchor="middle" font-weight="bold" fill="#000" >3</text>
<text x="383.4" y="712.3" font-size="24.8" text-anchor="middle" font-weight="bold" fill="#000" >10</text>
<text x="438.6" y="712.3" font-size="24.8" text-anchor="middle" font-weight="bold" fill="#000" >30</text>
<text x="498.1" y="712.3" font-size="24.8" text-anchor="middle" font-weight="bold" fill="#000" >0</text>
<text x="558.4" y="712.3" font-size="24.8" text-anchor="middle" font-weight="bold" fill="#000" >3</text>
<text x="619.4" y="712.3" font-size="24.8" text-anchor="middle" font-weight="bold" fill="#000" >10</text>
<text x="680.2" y="712.3" font-size="24.8" text-anchor="middle" font-weight="bold" fill="#000" >30</text>
<path d="M78.2 727.5H239.4" stroke="#000" stroke-width="3.2" fill="none"/>
<path d="M247.2 727.5H467.8" stroke="#000" stroke-width="3.2" fill="none"/>
<path d="M478.6 727.5H695.6" stroke="#000" stroke-width="3.2" fill="none"/>
<text x="962.0" y="681.7" font-size="30" text-anchor="start" font-weight="bold" fill="#000" textLength="60" lengthAdjust="spacingAndGlyphs">VPA</text>
<text x="1149.4" y="681.7" font-size="30" text-anchor="start" font-weight="bold" fill="#000" textLength="65" lengthAdjust="spacingAndGlyphs">CLZ</text>
<text x="1297.2" y="681.7" font-size="30" text-anchor="start" font-weight="bold" fill="#000" textLength="230" lengthAdjust="spacingAndGlyphs">VPA(1000)+CLZ</text>
<text x="931.1" y="712.3" font-size="24.8" text-anchor="middle" font-weight="bold" fill="#000" >0</text>
<text x="979.6" y="712.3" font-size="24.8" text-anchor="middle" font-weight="bold" fill="#000" >1000</text>
<text x="1040.3" y="712.3" font-size="24.8" text-anchor="middle" font-weight="bold" fill="#000" >3000</text>
<text x="1100.1" y="712.3" font-size="24.8" text-anchor="middle" font-weight="bold" fill="#000" >0</text>
<text x="1153.4" y="712.3" font-size="24.8" text-anchor="middle" font-weight="bold" fill="#000" >3</text>
<text x="1208.6" y="712.3" font-size="24.8" text-anchor="middle" font-weight="bold" fill="#000" >10</text>
<text x="1263.1" y="712.3" font-size="24.8" text-anchor="middle" font-weight="bold" fill="#000" >30</text>
<text x="1323.4" y="712.3" font-size="24.8" text-anchor="middle" font-weight="bold" fill="#000" >0</text>
<text x="1383.3" y="712.3" font-size="24.8" text-anchor="middle" font-weight="bold" fill="#000" >3</text>
<text x="1444.4" y="712.3" font-size="24.8" text-anchor="middle" font-weight="bold" fill="#000" >10</text>
<text x="1504.7" y="712.3" font-size="24.8" text-anchor="middle" font-weight="bold" fill="#000" >30</text>
<path d="M903.6 726.4H1064.4" stroke="#000" stroke-width="3.2" fill="none"/>
<path d="M1071.8 726.4H1292.8" stroke="#000" stroke-width="3.2" fill="none"/>
<path d="M1304.7 726.4H1521.2" stroke="#000" stroke-width="3.2" fill="none"/>
<text transform="translate(707.6 766.2) scale(1 1.04)" font-size="21.5" text-anchor="start" font-weight="normal" fill="#000" >-Cx43</text>
<text transform="translate(707.6 908.9) scale(1 1.04)" font-size="21.3" text-anchor="start" font-weight="normal" fill="#000" >-GAPDH</text>
<text transform="translate(1542.6 766.0) scale(1 1.04)" font-size="21.5" text-anchor="start" font-weight="normal" fill="#000" >-Cx43</text>
<text transform="translate(1542.6 908.7) scale(1 1.04)" font-size="21.3" text-anchor="start" font-weight="normal" fill="#000" >-GAPDH</text>
</g>
</svg>
</body></html>
